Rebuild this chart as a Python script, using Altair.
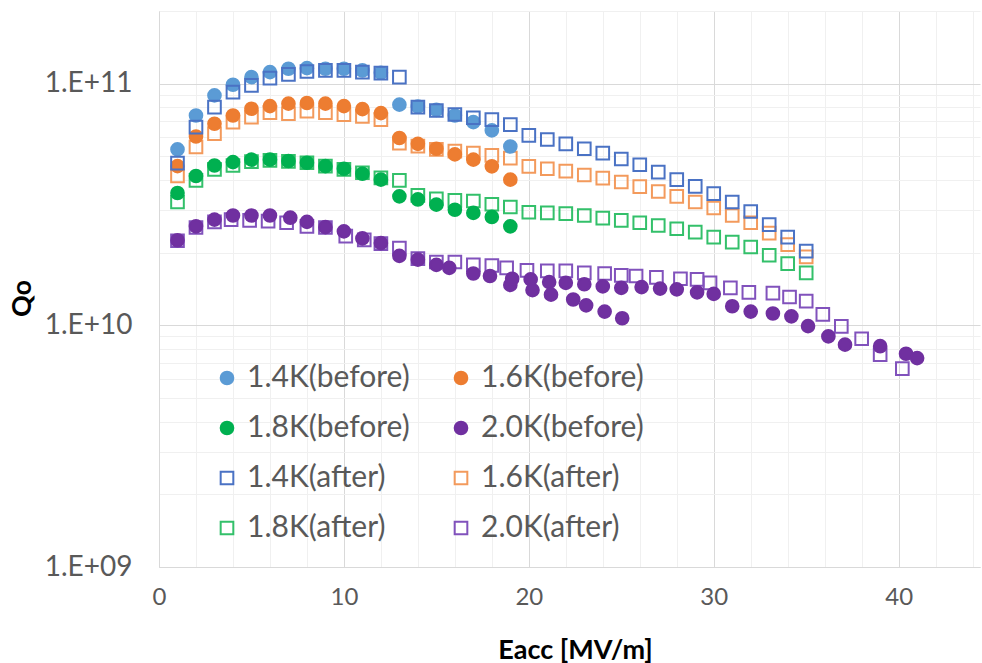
import altair as alt
import pandas as pd

# ---------------- data ----------------
series_names = ["1.4K(before)", "1.6K(before)", "1.8K(before)", "2.0K(before)",
                "1.4K(after)", "1.6K(after)", "1.8K(after)", "2.0K(after)"]

e_before_int = list(range(1, 20))
e_after_int = list(range(1, 36))

q14_before = [5.35e10, 7.39e10, 8.95e10, 9.9e10, 1.065e11, 1.117e11, 1.154e11, 1.16e11, 1.154e11,
              1.154e11, 1.135e11, 1.11e11, 8.19e10, 8.05e10, 7.8e10, 7.39e10, 6.94e10, 6.41e10, 5.5e10]
q16_before = [4.56e10, 6.05e10, 6.83e10, 7.39e10, 7.88e10, 8.08e10, 8.27e10, 8.32e10, 8.27e10,
              8.08e10, 7.85e10, 7.56e10, 5.96e10, 5.64e10, 5.38e10, 5.1e10, 4.85e10, 4.55e10, 4.01e10]
q18_before = [3.53e10, 4.15e10, 4.59e10, 4.74e10, 4.85e10, 4.85e10, 4.79e10, 4.71e10, 4.56e10,
              4.45e10, 4.24e10, 4.01e10, 3.42e10, 3.32e10, 3.16e10, 3.01e10, 2.92e10, 2.81e10, 2.57e10]

e20_before = [1, 2, 3, 4, 5, 6, 7.1, 8, 9, 10, 11, 12, 13, 14, 15, 15.7, 17, 17.9, 19.0, 19.1,
              20.1, 20.2, 21.1, 21.2, 22, 22.4, 23, 23.1, 24, 24.1, 25, 25.05, 26.1, 27.1, 28, 29.1,
              30, 31, 32, 33.2, 34.2, 35.1, 36.2, 37.1, 39.0, 40.4, 41.0]
q20_before = [2.25e10, 2.57e10, 2.74e10, 2.85e10, 2.85e10, 2.85e10, 2.79e10, 2.68e10, 2.55e10, 2.45e10,
              2.29e10, 2.19e10, 1.94e10, 1.87e10, 1.78e10, 1.73e10, 1.64e10, 1.60e10, 1.47e10, 1.56e10,
              1.55e10, 1.40e10, 1.51e10, 1.34e10, 1.50e10, 1.28e10, 1.48e10, 1.21e10, 1.45e10, 1.14e10,
              1.43e10, 1.07e10, 1.44e10, 1.42e10, 1.41e10, 1.37e10, 1.35e10, 1.20e10, 1.14e10, 1.12e10,
              1.09e10, 9.93e9, 9.0e9, 8.32e9, 8.2e9, 7.63e9, 7.32e9]

q14_after = [4.69e10, 6.61e10, 8.0e10, 9.23e10, 9.84e10, 1.055e11, 1.093e11, 1.124e11, 1.135e11, 1.135e11,
             1.117e11, 1.106e11, 1.065e11, 8.0e10, 7.75e10, 7.46e10, 7.23e10, 7.1e10, 6.77e10, 6.11e10,
             5.88e10, 5.64e10, 5.38e10, 5.16e10, 4.88e10, 4.62e10, 4.31e10, 4.01e10, 3.76e10, 3.51e10,
             3.24e10, 2.96e10, 2.61e10, 2.32e10, 2.03e10]
q16_after = [4.15e10, 5.47e10, 6.21e10, 6.94e10, 7.28e10, 7.59e10, 7.51e10, 7.7e10, 7.59e10, 7.44e10,
             7.32e10, 7.1e10, 5.68e10, 5.52e10, 5.35e10, 5.26e10, 5.16e10, 5.05e10, 4.92e10, 4.55e10,
             4.45e10, 4.35e10, 4.19e10, 4.07e10, 3.92e10, 3.75e10, 3.58e10, 3.42e10, 3.24e10, 3.06e10,
             2.85e10, 2.66e10, 2.41e10, 2.16e10, 1.92e10]
q18_after = [3.24e10, 3.98e10, 4.42e10, 4.59e10, 4.76e10, 4.82e10, 4.77e10, 4.71e10, 4.56e10, 4.42e10,
             4.28e10, 4.08e10, 3.98e10, 3.45e10, 3.34e10, 3.29e10, 3.27e10, 3.17e10, 3.09e10, 2.94e10,
             2.92e10, 2.9e10, 2.85e10, 2.78e10, 2.72e10, 2.66e10, 2.59e10, 2.51e10, 2.43e10, 2.32e10,
             2.21e10, 2.11e10, 1.95e10, 1.8e10, 1.65e10]

e20_after = [1, 2, 3, 3.9, 4.9, 5.9, 6.9, 8, 9, 10.1, 11.1, 12, 13, 14, 15, 16, 17, 18, 18.8, 19.9,
             21, 22, 23, 24.1, 25, 25.8, 26.9, 28.2, 29.1, 29.8, 30.9, 31.9, 33.2, 34.1, 35, 35.9,
             36.9, 38, 39, 40.2]
q20_after = [2.24e10, 2.54e10, 2.68e10, 2.74e10, 2.72e10, 2.70e10, 2.66e10, 2.57e10, 2.54e10, 2.34e10,
             2.26e10, 2.18e10, 2.09e10, 1.89e10, 1.83e10, 1.83e10, 1.78e10, 1.77e10, 1.73e10, 1.69e10,
             1.68e10, 1.68e10, 1.65e10, 1.64e10, 1.61e10, 1.60e10, 1.58e10, 1.56e10, 1.55e10, 1.50e10,
             1.43e10, 1.37e10, 1.36e10, 1.31e10, 1.26e10, 1.11e10, 9.9e9, 8.8e9, 7.56e9, 6.62e9]

fill_colors = ["#5B9BD5", "#ED7D31", "#00B050", "#7030A0",
               "transparent", "transparent", "transparent", "transparent"]
stroke_colors = ["#5B9BD5", "#ED7D31", "#00B050", "#7030A0",
                 "#4A72C4", "#F39A5C", "#33C06A", "#8152BC"]
shapes = ["circle"] * 4 + ["square"] * 4

x_grid_values = list(range(0, 45, 2))
y_grid_values = [m * 10 ** p for p in (9, 10) for m in range(1, 10)] + [1e11, 2e11]

# ---------------- table (draw order) ----------------
parts = [
    ("2.0K(after)", e20_after, q20_after),
    ("2.0K(before)", e20_before, q20_before),
    ("1.8K(after)", e_after_int, q18_after),
    ("1.8K(before)", e_before_int, q18_before),
    ("1.6K(after)", e_after_int, q16_after),
    ("1.6K(before)", e_before_int, q16_before),
    ("1.4K(before)", e_before_int, q14_before),
    ("1.4K(after)", e_after_int, q14_after),
]
rows = []
for name, es, qs in parts:
    for e, q in zip(es, qs):
        rows.append({"series": name, "Eacc": e, "Q0": q})
df = pd.DataFrame(rows)

FONT = "Lato"
legend = alt.Legend(
    title=None, orient="none", legendX=53, legendY=352, columns=2, direction="horizontal",
    symbolSize=160, symbolStrokeWidth=2, labelFont=FONT, labelFontSize=30, labelLimit=400,
    labelColor="#595959", labelOffset=5, rowPadding=20, columnPadding=36,
    padding=0, symbolOpacity=1,
)

major_x = "datum.value % 10 === 0"
major_y = "abs(log(datum.value)/LN10 - round(log(datum.value)/LN10)) < 0.001"

chart = alt.Chart(df).mark_point(filled=True, size=160, strokeWidth=2, opacity=1).encode(
    x=alt.X("Eacc:Q", scale=alt.Scale(domain=[0, 44.4], nice=False, zero=False),
            axis=alt.Axis(
                values=x_grid_values,
                labelExpr="datum.value % 10 === 0 ? datum.label : ''",
                title="Eacc [MV/m]", titleFont=FONT, titleFontSize=27, titleFontWeight="bold",
                titleColor="#000000", titleX=416, titleY=83, titleBaseline="middle",
                titleAlign="center",
                labelFont=FONT, labelFontSize=24, labelColor="#595959",
                labelBaseline="middle", labelPadding=30, ticks=False, tickSize=0,
                domainColor="#D9D9D9", domainWidth=1,
                gridColor={"condition": {"test": major_x, "value": "#D9D9D9"}, "value": "#F0F0F0"},
                labelFlush=False, labelOverlap=False,
            )),
    y=alt.Y("Q0:Q", scale=alt.Scale(type="log", domain=[1e9, 2e11], nice=False),
            axis=alt.Axis(
                values=y_grid_values,
                labelExpr="(" + major_y + ") ? ('1.E+' + (round(log(datum.value)/LN10) < 10 ? '0' : '') + round(log(datum.value)/LN10)) : ''",
                title="Qo", titleFont=FONT, titleFontSize=27, titleFontWeight="bold",
                titleColor="#000000", titleX=-137, titleY=287, titleAngle=-90,
                titleAlign="center", titleBaseline="middle",
                labelFont=FONT, labelFontSize=28, labelColor="#595959",
                labelBaseline="middle", labelPadding=27, ticks=False, tickSize=0,
                domainColor="#D9D9D9", domainWidth=1,
                gridColor={"condition": {"test": major_y, "value": "#D9D9D9"}, "value": "#F0F0F0"},
                labelFlush=False, labelOverlap=False,
            )),
    fill=alt.Fill("series:N", scale=alt.Scale(domain=series_names, range=fill_colors), legend=legend),
    stroke=alt.Stroke("series:N", scale=alt.Scale(domain=series_names, range=stroke_colors), legend=legend),
    shape=alt.Shape("series:N", scale=alt.Scale(domain=series_names, range=shapes), legend=legend),
).properties(
    width=821, height=556,
    autosize=alt.AutoSizeParams(type="none"),
    padding={"left": 159, "top": 11, "right": 2, "bottom": 96},
    background="white",
).configure_view(stroke=None)

chart.save("out.html", embed_options={"renderer": "svg", "actions": False})
